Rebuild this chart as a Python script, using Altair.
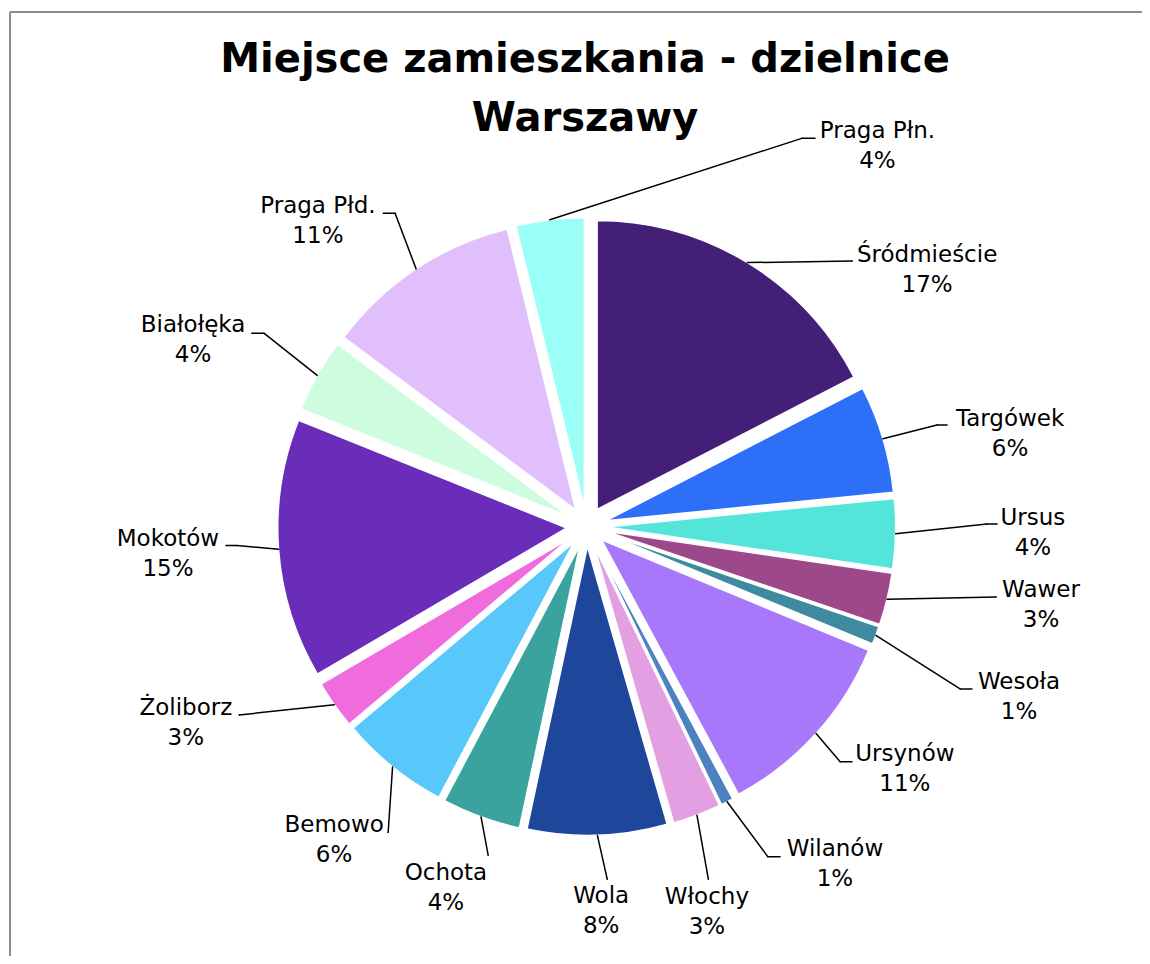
import altair as alt
import pandas as pd

# ---- data (clockwise from 12 o'clock) ----
districts = ["Śródmieście", "Targówek", "Ursus", "Wawer", "Wesoła", "Ursynów",
             "Wilanów", "Włochy", "Wola", "Ochota", "Bemowo", "Żoliborz",
             "Mokotów", "Białołęka", "Praga Płd.", "Praga Płn."]
shares = [17.4, 6.0, 3.9, 2.9, 1.0, 10.9, 0.7, 2.7, 7.8, 4.4, 6.1, 2.7,
          14.5, 4.1, 11.0, 3.8]
colors = ["#441F77", "#2D6FF7", "#54E5DA", "#9C4889", "#3E8AA0", "#A878FA",
          "#4C82C0", "#E2A0E2", "#1E469B", "#3AA39E", "#58C8FA", "#F06CDC",
          "#692DB9", "#CDFCDE", "#E1BEFC", "#99FFF7"]

# ---- label layout, in pie-radius units relative to the pie centre (y up) ----
label_x = [1.178, 1.465, 1.544, 1.572, 1.496, 1.101, 0.859, 0.416, 0.050,
           -0.487, -0.874, -1.387, -1.449, -1.362, -0.930, 1.006]
label_y = [0.915, 0.348, 0.005, -0.244, -0.562, -0.811, -1.140, -1.306, -1.303,
           -1.223, -1.057, -0.652, -0.068, 0.673, 1.085, 1.344]
elbow_x = [0.918, 1.212, 1.385, 1.416, 1.292, 0.877, 0.627, 0.421, 0.071,
           -0.341, -0.687, -1.202, -1.211, -1.117, -0.663, 0.744]
elbow_y = [0.919, 0.351, 0.009, -0.244, -0.562, -0.814, -1.143, -1.220, -1.220,
           -1.137, -1.058, -0.652, -0.066, 0.669, 1.084, 1.343]
end_x = [0.918, 1.247, 1.420, 1.416, 1.333, 0.918, 0.669, 0.421, 0.071,
         -0.341, -0.687, -1.202, -1.248, -1.159, -0.704, 0.790]
end_y = elbow_y

title_lines = ["Miejsce zamieszkania - dzielnice", "Warszawy"]

# ---- layout constants ----
W, H = 1134, 948
R = 289                 # pie radius, px
CX, CY = 578.7, 518.5   # pie centre inside the plot area, px
EXPLODE = 20 / R        # slice explosion, in radius units
FONT = "DejaVu Sans"

xs = alt.Scale(domain=[-CX / R, (W - CX) / R], nice=False, zero=False)
ys = alt.Scale(domain=[-(H - CY) / R, CY / R], nice=False, zero=False)

df = pd.DataFrame({
    "order": list(range(len(districts))),
    "district": districts,
    "share": shares,
    "lx": label_x, "ly": label_y,
    "bx": elbow_x, "by": elbow_y,
    "tx": end_x, "ty": end_y,
})

base = alt.Chart(df).transform_joinaggregate(
    total="sum(share)"
).transform_window(
    cum="sum(share)", sort=[alt.SortField("order")], frame=[None, 0]
).transform_calculate(
    t0="2*PI*(datum.cum - datum.share)/datum.total",
    t1="2*PI*datum.cum/datum.total",
    mid="(datum.t0 + datum.t1)/2",
    cx=f"{EXPLODE}*sin(datum.mid)",
    cy=f"{EXPLODE}*cos(datum.mid)",
    ax="datum.cx + sin(datum.mid)",
    ay="datum.cy + cos(datum.mid)",
    pct="format(datum.share/datum.total, '.0%')",
)

X = lambda f: alt.X(f, scale=xs, axis=None)
Y = lambda f: alt.Y(f, scale=ys, axis=None)

slices = base.mark_arc(radius=R, stroke="white", strokeWidth=1.5).encode(
    x=X("cx:Q"),
    y=Y("cy:Q"),
    theta=alt.Theta("t0:Q", scale=None, stack=None),
    theta2=alt.Theta2("t1:Q"),
    color=alt.Color("district:N", scale=alt.Scale(domain=districts, range=colors),
                    legend=None),
)

lead1 = base.mark_rule(color="black", strokeWidth=1.5, strokeCap="round").encode(
    x=X("ax:Q"), y=Y("ay:Q"), x2="bx:Q", y2="by:Q"
)
lead2 = base.mark_rule(color="black", strokeWidth=1.5, strokeCap="round").encode(
    x=X("bx:Q"), y=Y("by:Q"), x2="tx:Q", y2="ty:Q"
)

names = base.mark_text(font=FONT, fontSize=23, align="center",
                       baseline="alphabetic", color="black").encode(
    x=X("lx:Q"), y=Y("ly:Q"), text="district:N"
)
pcts = base.mark_text(font=FONT, fontSize=23, align="center",
                      baseline="alphabetic", color="black", dy=30).encode(
    x=X("lx:Q"), y=Y("ly:Q"), text="pct:N"
)

tdf = pd.DataFrame({"line": [0]})
title1 = alt.Chart(tdf).mark_text(font=FONT, fontSize=40, fontWeight="bold",
                                  align="center", baseline="alphabetic",
                                  color="black").encode(
    x=alt.value(577), y=alt.value(64), text=alt.value(title_lines[0])
)
title2 = alt.Chart(tdf).mark_text(font=FONT, fontSize=40, fontWeight="bold",
                                  align="center", baseline="alphabetic",
                                  color="black").encode(
    x=alt.value(577), y=alt.value(123), text=alt.value(title_lines[1])
)

frame_top = alt.Chart(tdf).mark_rule(color="#8c8c8c", strokeWidth=2).encode(
    x=alt.value(2), x2=alt.value(W), y=alt.value(4)
)
frame_left = alt.Chart(tdf).mark_rule(color="#8c8c8c", strokeWidth=2).encode(
    x=alt.value(2), y=alt.value(4), y2=alt.value(H)
)

chart = alt.layer(
    frame_top, frame_left, slices, lead1, lead2, names, pcts, title1, title2
).properties(
    width=W, height=H, autosize="none", padding=0, background="white"
).configure_view(stroke=None)

chart.save("out.html", embed_options={"renderer": "svg", "actions": False})
